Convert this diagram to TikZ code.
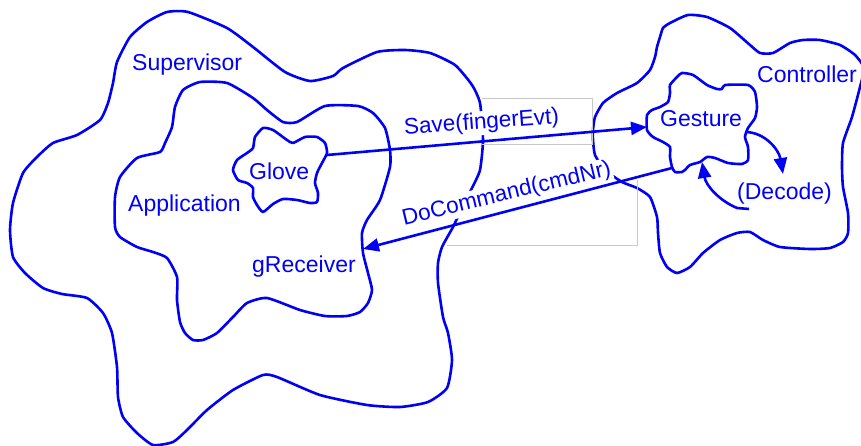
\documentclass[tikz,border=0pt]{standalone}
\usepackage{fontspec}
\setmainfont{Liberation Sans}
\usetikzlibrary{arrows.meta}
\definecolor{ink}{RGB}{0,0,245}
\definecolor{frame}{RGB}{200,200,200}
\begin{document}
\begin{tikzpicture}[x=1pt,y=-1pt,
  blob/.style={draw=ink, line width=2.6pt, line join=round},
  lbl/.style={text=ink, font=\fontsize{23}{27}\selectfont, inner sep=0pt, anchor=base west},
  msg/.style={text=ink, fill=white, font=\fontsize{22.5}{26}\selectfont, inner sep=1.5pt, anchor=base},
  link/.style={draw=ink, line width=2.6pt, -{Triangle[length=16pt,width=13pt]}},
  guide/.style={draw=frame, line width=0.8pt}]
\useasboundingbox (0,0) rectangle (861,446);

% Supervisor
\draw[blob] plot[smooth cycle, tension=0.35] coordinates {
 (167,12) (188,12) (227,28) (253,47) (285,72) (310,81) (333,76) (343,68)
 (377,52) (405,50) (430,53) (455,65) (472,85) (480,103) (483,140) (480,170)
 (472,188) (462,208) (453,227) (442,247) (438,263) (438,283) (443,317) (448,333)
 (452,360) (447,388) (428,402) (400,407) (367,405) (320,395) (277,377) (263,375)
 (233,390) (207,410) (187,430) (173,442) (153,445) (137,433) (123,417) (118,397)
 (117,367) (112,333) (103,313) (87,298) (62,294) (43,288) (25,273) (13,257)
 (10,230) (13,203) (23,173) (37,157) (53,143) (77,135) (100,120) (108,103)
 (113,83) (117,62) (130,37) (147,22)};

% Application
\draw[blob] plot[smooth cycle, tension=0.35] coordinates {
 (200,82) (227,83) (253,98) (267,110) (283,122) (297,122) (325,106) (358,106)
 (373,113) (385,128) (390,150) (390,167) (380,200) (367,220) (362,233) (363,253)
 (368,273) (372,290) (368,303) (360,312) (347,316) (325,316) (300,310) (267,298)
 (247,303) (233,317) (217,333) (203,340) (193,340) (185,333) (180,322) (177,300)
 (177,277) (167,258) (153,252) (137,247) (120,237) (115,227) (115,197) (120,177)
 (137,158) (160,152) (165,143) (172,127) (175,107) (183,90)};

% Glove
\draw[blob] plot[smooth cycle, tension=0.35] coordinates {
 (263,128) (273,130) (287,140) (293,143) (305,137) (317,137) (325,143) (327,153)
 (322,163) (317,173) (315,183) (318,193) (317,202) (310,203) (297,200) (283,199)
 (273,204) (263,212) (257,205) (253,197) (253,188) (247,183) (238,180) (233,170)
 (237,160) (247,153) (253,148) (255,137)};

% Controller
\draw[blob] plot[smooth cycle, tension=0.35] coordinates {
 (670,23) (688,15) (707,17) (730,28) (750,45) (760,53) (773,53) (790,43)
 (803,40) (820,40) (840,45) (855,55) (864,68) (860,87) (852,117) (843,143)
 (842,167) (843,187) (848,213) (848,233) (843,242) (830,248) (810,249) (780,247)
 (763,240) (750,232) (737,233) (720,240) (703,253) (690,267) (677,273) (667,267)
 (660,253) (658,233) (657,217) (650,197) (637,188) (622,182) (605,170) (595,155)
 (593,140) (593,130) (595,117) (603,103) (617,93) (637,83) (650,70) (655,57)
 (657,47) (660,37) (663,28)};

% Gesture
\draw[blob] plot[smooth cycle, tension=0.35] coordinates {
 (682,73) (693,75) (707,85) (717,89) (722,89) (725,85) (748,85) (755,92)
 (757,107) (755,118) (748,128) (745,137) (748,147) (748,160) (742,164) (728,163)
 (715,158) (707,157) (700,162) (690,165) (685,170) (682,172) (675,172) (672,167)
 (670,157) (670,147) (663,142) (653,137) (647,130) (647,115) (652,110) (660,107)
 (668,102) (670,93) (670,85) (677,77)};

% faint frames behind the message labels
\draw[guide] (482,98) -- (592,98) -- (592,144) -- (482,144);
\draw[guide] (637,180) -- (637,245) -- (447,245);

% names
\node[lbl] (supervisor) at (132,71) {Supervisor};
\node[lbl] (application) at (128,212) {Application};
\node[lbl] (glove) at (249,180) {Glove};
\node[lbl] (receiver) at (252,272) {gReceiver};
\node[lbl] (controller) at (757,83) {Controller};
\node[lbl] (gesture) at (660,127) {Gesture};
\node[lbl] (decode) at (737,200) {(Decode)};

% message labels
\node[msg, rotate=4.3] (save) at (482,129) {Save(fingerEvt)};
\node[msg, rotate=13.6] (docmd) at (508,200) {DoCommand(cmdNr)};

% connector end points on the outlines
\coordinate (gloveOut) at (327,155);
\coordinate (gestureIn) at (647,127);
\coordinate (gestureOut) at (672,168);
\coordinate (recvIn) at (363,249);
\coordinate (gestureR) at (745,132);
\coordinate (decodeIn) at (783,174);
\coordinate (decodeOut) at (749,209);
\coordinate (decodeBend) at (737,208);
\coordinate (gestureB) at (702,162);

\draw[link] (gloveOut) -- (gestureIn);
\draw[link] (gestureOut) -- (recvIn);
\draw[link] (gestureR) .. controls (765,132) and (779,150) .. (decodeIn);
\draw[link] (decodeOut) -- (decodeBend) .. controls (720,201) and (706,186) .. (gestureB);
\end{tikzpicture}
\end{document}
